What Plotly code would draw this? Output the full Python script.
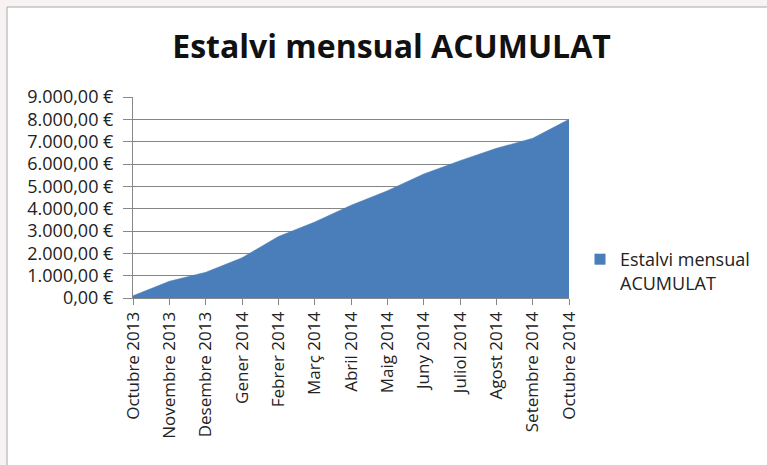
import plotly.graph_objects as go

months = ["Octubre 2013", "Novembre 2013", "Desembre 2013", "Gener 2014", "Febrer 2014",
          "Març 2014", "Abril 2014", "Maig 2014", "Juny 2014", "Juliol 2014",
          "Agost 2014", "Setembre 2014", "Octubre 2014"]
acumulat = [100, 750, 1150, 1800, 2750, 3400, 4150, 4800, 5550, 6150, 6700, 7150, 8000]
y_tick_vals = [0, 1000, 2000, 3000, 4000, 5000, 6000, 7000, 8000, 9000]
y_tick_text = ["0,00 €", "1.000,00 €", "2.000,00 €", "3.000,00 €", "4.000,00 €",
               "5.000,00 €", "6.000,00 €", "7.000,00 €", "8.000,00 €", "9.000,00 €"]
series_name = "Estalvi mensual<br>ACUMULAT"
title_text = "Estalvi mensual ACUMULAT"

FONT = "Open Sans"
BLUE = "#4A7EBB"
W, H = 767, 465
L, R, T, B = 133, 569, 97, 298

fig = go.Figure()
fig.add_trace(go.Scatter(
    x=months, y=acumulat, name=series_name, mode="lines",
    line=dict(color=BLUE, width=0.5), fill="tozeroy", fillcolor=BLUE,
    showlegend=False,
))
# legend entry (square swatch like the original)
fig.add_trace(go.Scatter(
    x=[None], y=[None], name=series_name, mode="markers",
    marker=dict(symbol="square", size=11, color=BLUE), showlegend=True,
))

def px_x(p):
    return (p - L) / (R - L)

def px_y(p):
    return (B - p) / (B - T)

fig.add_shape(type="rect", xref="paper", yref="paper",
              x0=px_x(7), x1=px_x(W + 5), y0=px_y(H + 5), y1=px_y(7),
              fillcolor="white", line=dict(color="#A6A6A6", width=1), layer="below")

fig.update_layout(
    width=W, height=H,
    margin=dict(l=L, r=W - R, t=T, b=H - B),
    paper_bgcolor="#F7F3F3", plot_bgcolor="rgba(0,0,0,0)",
    font=dict(family=FONT, color="#1A1A1A", size=17),
    title=dict(text=title_text, x=391.5 / W, xanchor="center", y=1 - 47 / H, yanchor="middle",
               yref="container", font=dict(family=FONT, size=32, color="#111111", weight="bold")),
    showlegend=True,
    legend=dict(x=px_x(580), y=px_y(241), xanchor="left", yanchor="top", valign="top",
                font=dict(family=FONT, size=18, color="#222222"),
                bgcolor="rgba(0,0,0,0)", itemwidth=30),
    xaxis=dict(type="category", range=[0, len(months) - 1], tickangle=-90,
               showline=True, linecolor="#888888", linewidth=1,
               ticks="outside", ticklen=6, tickcolor="#888888",
               showgrid=False, tickfont=dict(size=17, color="#222222")),
    yaxis=dict(range=[0, 9000], tickvals=y_tick_vals, ticktext=y_tick_text,
               showline=True, linecolor="#888888", linewidth=1,
               ticks="outside", ticklen=9, tickcolor="#888888", ticklabelstandoff=6,
               showgrid=True, gridcolor="#858585", gridwidth=1.2,
               zeroline=False, tickfont=dict(size=18, color="#222222")),
)

fig.write_html("out.html", post_script="document.body.style.margin='0';",
               config={"displayModeBar": False})
